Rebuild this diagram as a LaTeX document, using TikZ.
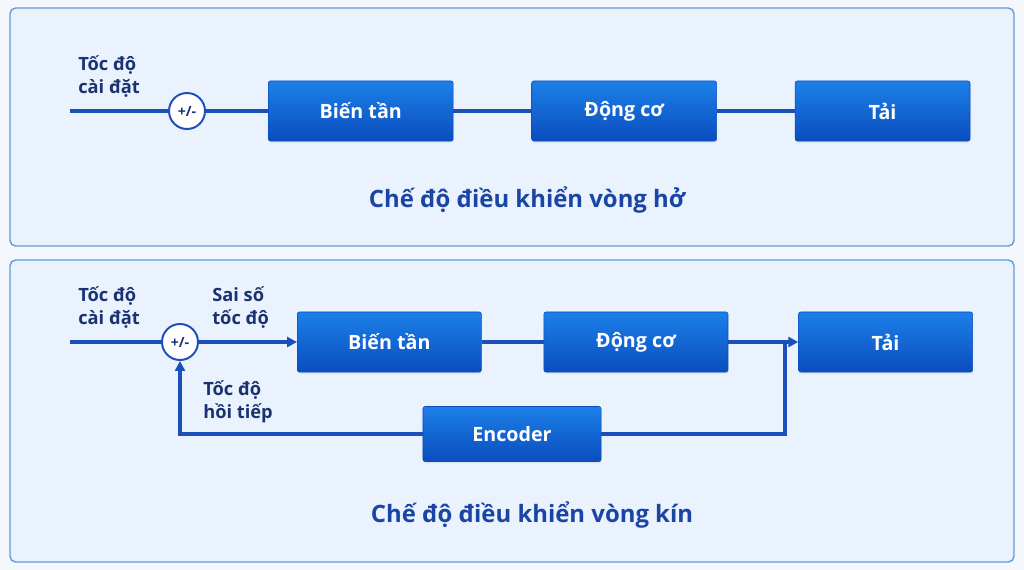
\documentclass[tikz,border=0pt]{standalone}
\usepackage{fontspec}
\setmainfont{Open Sans}
\usetikzlibrary{positioning, arrows.meta, shadows}

\definecolor{wireblue}{HTML}{1D4FBC}
\definecolor{blocktop}{HTML}{1C80E8}
\definecolor{blockbot}{HTML}{0A4DBE}
\definecolor{navy}{HTML}{1A3272}
\definecolor{titleblue}{HTML}{1A45A5}
\definecolor{panelfill}{HTML}{EAF2FD}
\definecolor{panelline}{HTML}{5E9BE3}
\definecolor{pagebg}{HTML}{F4F7FC}

\begin{document}
\begin{tikzpicture}[x=0.025cm, y=-0.025cm, >={Triangle[length=7pt, width=7pt]},
    block/.style={rectangle, rounded corners=1.5pt, top color=blocktop, bottom color=blockbot,
      draw=blockbot, text=white, font=\bfseries\fontsize{14}{16}\selectfont,
      minimum width=4.62cm, minimum height=1.5cm,
      drop shadow={opacity=0.15, shadow xshift=0.4pt, shadow yshift=-1.2pt}},
    sum/.style={circle, draw=wireblue, line width=1.4pt, fill=white, minimum size=0.9cm,
      inner sep=0pt, text=navy, font=\bfseries\fontsize{10}{12}\selectfont,
      drop shadow={opacity=0.12, shadow xshift=0pt, shadow yshift=-1pt}},
    wire/.style={draw=wireblue, line width=2.2pt},
    lbl/.style={align=left, text=navy, inner sep=0pt, font=\bfseries\fontsize{13}{16.4}\selectfont},
    title/.style={text=titleblue, font=\bfseries\fontsize{17}{20}\selectfont},
    panel/.style={draw=panelline, line width=1pt, fill=panelfill, rounded corners=4pt}]
  \useasboundingbox[fill=pagebg] (0,0) rectangle (1024,570);

  % panels
  \draw[panel] (10,8) rectangle (1014,246);
  \draw[panel] (10,260) rectangle (1014,562);

  % open loop
  \coordinate (inA) at (70,111);
  \node[sum] (sumA) at (187,111) {+/-};
  \node[block, right=1.55cm of sumA] (invA) {Biến tần};
  \node[block, right=1.95cm of invA] (motA) {Động cơ};
  \node[block, minimum width=4.37cm, right=1.95cm of motA] (loadA) {Tải};
  \node[lbl, anchor=south west] (setA) at (78,98) {Tốc độ\\cài đặt};
  \node[title] (titA) at (527,200) {Chế độ điều khiển vòng hở};

  \path[wire] (inA) -- (sumA) (sumA) -- (invA) (invA) -- (motA) (motA) -- (loadA);

  % closed loop
  \coordinate (inB) at (70,342);
  \node[sum] (sumB) at (180,342) {+/-};
  \node[block, minimum width=4.6cm, right=2.45cm of sumB] (invB) {Biến tần};
  \node[block, minimum width=4.6cm, right=1.55cm of invB] (motB) {Động cơ};
  \node[block, minimum width=4.35cm, right=1.75cm of motB] (loadB) {Tải};
  \node[block, minimum width=4.45cm, minimum height=1.375cm] (enc) at (512,434) {Encoder};
  \coordinate (tap) at (785,342);
  \node[lbl, anchor=south west] (setB) at (78,329) {Tốc độ\\cài đặt};
  \node[lbl, anchor=south west] (errB) at (212,329) {Sai số\\tốc độ};
  \node[lbl, anchor=south west] (fbB) at (203,423) {Tốc độ\\hồi tiếp};
  \node[title] (titB) at (532,515) {Chế độ điều khiển vòng kín};

  \path[wire] (inB) -- (sumB) (invB) -- (motB);
  \path[wire, ->] (sumB) -- (invB);
  \path[wire, ->] (motB) -- (loadB);
  \path[wire] (tap) |- (enc);
  \path[wire, ->] (enc) -| (sumB);
\end{tikzpicture}
\end{document}
